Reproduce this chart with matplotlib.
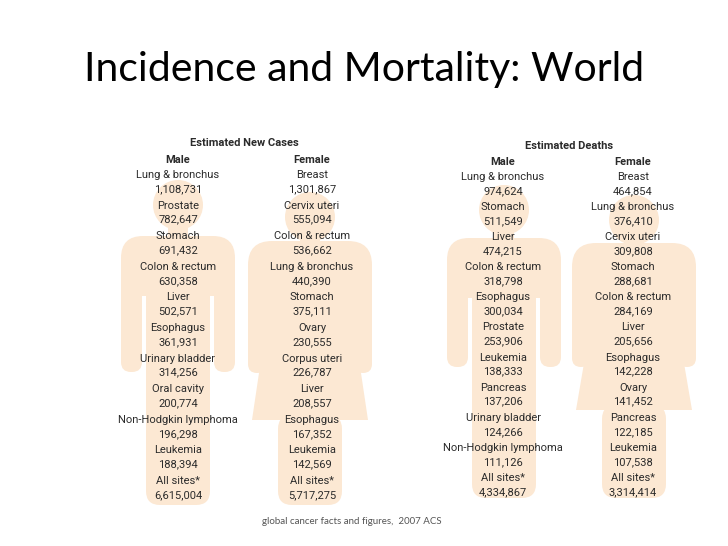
import matplotlib.pyplot as plt
from matplotlib.patches import Circle, FancyBboxPatch, Polygon

# ---------------- datos ----------------
nc_male_sites = ['Lung & bronchus', 'Prostate', 'Stomach', 'Colon & rectum', 'Liver',
                 'Esophagus', 'Urinary bladder', 'Oral cavity', 'Non-Hodgkin lymphoma',
                 'Leukemia', 'All sites*']
nc_male_vals = [1108731, 782647, 691432, 630358, 502571, 361931, 314256, 200774,
                196298, 188394, 6615004]

nc_female_sites = ['Breast', 'Cervix uteri', 'Colon & rectum', 'Lung & bronchus', 'Stomach',
                   'Ovary', 'Corpus uteri', 'Liver', 'Esophagus', 'Leukemia', 'All sites*']
nc_female_vals = [1301867, 555094, 536662, 440390, 375111, 230555, 226787, 208557,
                  167352, 142569, 5717275]

d_male_sites = ['Lung & bronchus', 'Stomach', 'Liver', 'Colon & rectum', 'Esophagus',
                'Prostate', 'Leukemia', 'Pancreas', 'Urinary bladder',
                'Non-Hodgkin lymphoma', 'All sites*']
d_male_vals = [974624, 511549, 474215, 318798, 300034, 253906, 138333, 137206,
               124266, 111126, 4334867]

d_female_sites = ['Breast', 'Lung & bronchus', 'Cervix uteri', 'Stomach', 'Colon & rectum',
                  'Liver', 'Esophagus', 'Ovary', 'Pancreas', 'Leukemia', 'All sites*']
d_female_vals = [464854, 376410, 309808, 288681, 284169, 205656, 142228, 141452,
                 122185, 107538, 3314414]

PEACH = '#fce8d3'
TXT = '#2b2b2b'

fig = plt.figure(figsize=(7.28, 5.46), dpi=100)
ax = fig.add_axes([0, 0, 1, 1])
ax.set_xlim(0, 728)
ax.set_ylim(546, 0)
ax.axis('off')


def rbox(x0, y0, x1, y1, r):
    ax.add_patch(FancyBboxPatch((x0 + r, y0 + r), x1 - x0 - 2 * r, y1 - y0 - 2 * r,
                                boxstyle='round,pad=%d' % r, fc=PEACH, ec='none', zorder=1))


# siluetas (decoración)
def male(cx, head_y, top, arm_end, bottom):
    ax.add_patch(Circle((cx, head_y), 25, fc=PEACH, ec='none', zorder=1))
    rbox(cx - 10, head_y, cx + 10, top + 10, 3)
    rbox(cx - 57, top, cx + 57, top + 60, 22)
    rbox(cx - 57, top + 20, cx - 36, arm_end, 10)
    rbox(cx + 36, top + 20, cx + 57, arm_end, 10)
    rbox(cx - 32, top + 20, cx + 32, bottom, 14)


def female(cx, head_y, top, arm_end, dress_y, bottom):
    ax.add_patch(Circle((cx, head_y), 25, fc=PEACH, ec='none', zorder=1))
    rbox(cx - 10, head_y, cx + 10, top + 10, 3)
    rbox(cx - 62, top, cx + 62, top + 55, 24)
    rbox(cx - 62, top + 20, cx - 44, arm_end, 9)
    rbox(cx + 44, top + 20, cx + 62, arm_end, 9)
    ax.add_patch(Polygon([(cx - 44, top + 20), (cx + 44, top + 20), (cx + 44, top + 85),
                          (cx + 58, dress_y), (cx - 58, dress_y), (cx - 44, top + 85)],
                         closed=True, fc=PEACH, ec='none', zorder=1))
    rbox(cx - 32, dress_y - 5, cx + 32, bottom, 14)


male(178, 205, 236, 372, 505)
female(310, 217, 241, 373, 420, 505)
male(504, 210, 238, 367, 498)
female(634, 220, 243, 367, 410, 498)


def column(x, y0, step, sites, vals):
    for i, (s, v) in enumerate(zip(sites, vals)):
        y = y0 + i * step
        ax.text(x, y, s, ha='center', va='center', fontsize=8, color=TXT,
                family='Roboto', zorder=3)
        ax.text(x, y + 14, f'{v:,}', ha='center', va='center', fontsize=8, color=TXT,
                family='Roboto', zorder=3)


column(178, 175, 30.6, nc_male_sites, nc_male_vals)
column(312, 175, 30.6, nc_female_sites, nc_female_vals)
column(503, 177, 30.1, d_male_sites, d_male_vals)
column(633, 177, 30.1, d_female_sites, d_female_vals)

bold = dict(ha='center', va='center', fontsize=8, color=TXT, family='Roboto',
            fontweight='bold', zorder=3)
ax.text(244, 143, 'Estimated New Cases', **bold)
ax.text(178, 160, 'Male', **bold)
ax.text(312, 160, 'Female', **bold)
ax.text(569, 146, 'Estimated Deaths', **bold)
ax.text(503, 162, 'Male', **bold)
ax.text(633, 162, 'Female', **bold)

ax.text(84, 69, 'Incidence and Mortality: World', ha='left', va='center',
        fontsize=29.5, color='black', family='Lato')
ax.text(262, 521, 'global cancer facts and figures,  2007 ACS', ha='left', va='center',
        fontsize=7, color='#555555', family='Lato')

plt.savefig('out.png', dpi=100)
